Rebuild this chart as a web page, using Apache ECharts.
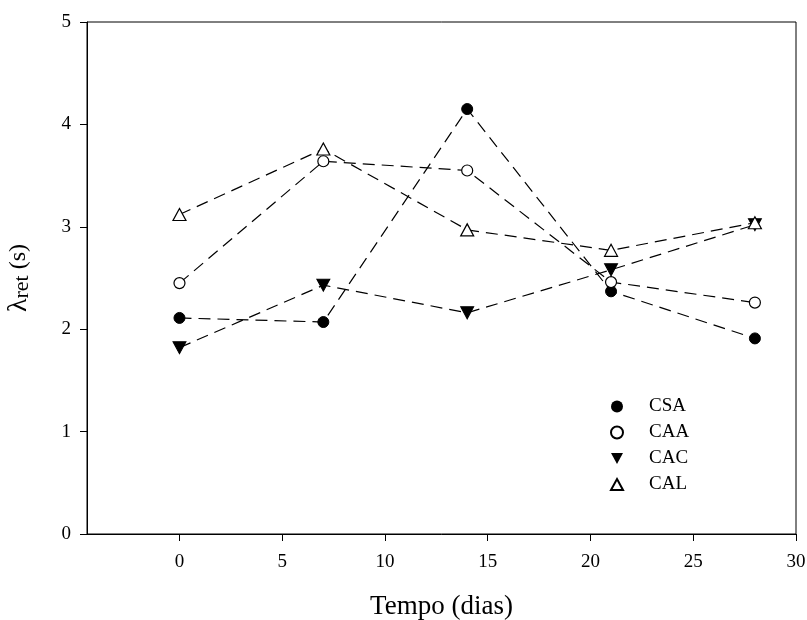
<!DOCTYPE html>
<html>
<head>
<meta charset="utf-8">
<script src="https://cdn.jsdelivr.net/npm/echarts@6/dist/echarts.min.js"></script>
<style>
  html, body { margin: 0; padding: 0; background: #fff; }
  #chart { width: 807px; height: 620px; }
</style>
</head>
<body>
<div id="chart"></div>
<script>
// dias
const days = [0, 7, 14, 21, 28]
const csa = [2.11, 2.07, 4.15, 2.37, 1.91]
const caa = [2.45, 3.64, 3.55, 2.46, 2.26]
const cac = [1.82, 2.43, 2.16, 2.58, 3.02]
const cal = [3.12, 3.76, 2.97, 2.77, 3.04]
const xTicks = [0, 5, 10, 15, 20, 25, 30]

const downTri = 'path://M0,0 L10,0 L5,9 Z'
const upTri = 'path://M5,0 L10,9 L0,9 Z'
const font = 'Liberation Serif'

const pts = (vals) => days.map((d, i) => [d, vals[i]])

const lineBase = {
  type: 'line',
  lineStyle: { color: '#000', width: 1.2, type: [12, 7] },
  emphasis: { disabled: true },
  animation: false,
}

const chart = echarts.init(document.getElementById('chart'))
chart.setOption({
  backgroundColor: '#fff',
  grid: {
    left: 87, right: 11, top: 22, bottom: 86,
    outerBoundsMode: 'none',
    show: true, borderColor: '#000', borderWidth: 1,
  },
  legend: {
    orient: 'vertical',
    left: 610,
    top: 397,
    padding: 0,
    itemWidth: 12,
    itemHeight: 12,
    itemGap: 7,
    textStyle: { fontFamily: font, fontSize: 19, color: '#000', padding: [0, 0, 0, 21] },
    data: [
      { name: 'CSA', icon: 'circle' },
      { name: 'CAA', icon: 'circle' },
      { name: 'CAC', icon: downTri },
      { name: 'CAL', icon: upTri },
    ],
  },
  xAxis: {
    type: 'value',
    min: -4.5,
    max: 30,
    name: 'Tempo (dias)',
    nameLocation: 'middle',
    nameGap: 59,
    nameTextStyle: { fontFamily: font, fontSize: 27, color: '#000' },
    axisLine: { onZero: false, lineStyle: { color: '#000' } },
    axisTick: { show: true, length: 7, customValues: xTicks, lineStyle: { color: '#000' } },
    axisLabel: { customValues: xTicks, fontFamily: font, fontSize: 19, color: '#000', margin: 19 },
    splitLine: { show: false },
  },
  yAxis: {
    type: 'value',
    min: 0,
    max: 5,
    interval: 1,
    name: '{l|λ}{s|ret}{p| (s)}',
    nameLocation: 'middle',
    nameGap: 54,
    nameRotate: 90,
    nameTextStyle: {
      color: '#000',
      rich: {
        l: { fontFamily: font, fontSize: 28, color: '#000' },
        s: { fontFamily: font, fontSize: 22, color: '#000', padding: [6, 0, 0, 0] },
        p: { fontFamily: font, fontSize: 24, color: '#000' },
      },
    },
    axisLine: { onZero: false, lineStyle: { color: '#000' } },
    axisTick: { show: true, length: 7, lineStyle: { color: '#000' } },
    axisLabel: { fontFamily: font, fontSize: 19, color: '#000', margin: 16 },
    splitLine: { show: false },
  },
  series: [
    {
      ...lineBase, name: 'CSA', data: pts(csa),
      symbol: 'circle', symbolSize: 11,
      itemStyle: { color: '#000', borderColor: '#000' },
    },
    {
      ...lineBase, name: 'CAA', data: pts(caa),
      symbol: 'circle', symbolSize: 11,
      itemStyle: { color: '#fff', borderColor: '#000', borderWidth: 1.2 },
    },
    {
      ...lineBase, name: 'CAC', data: pts(cac),
      symbol: downTri, symbolSize: [13, 12],
      itemStyle: { color: '#000', borderColor: '#000' },
    },
    {
      ...lineBase, name: 'CAL', data: pts(cal),
      symbol: upTri, symbolSize: [13, 12],
      itemStyle: { color: '#fff', borderColor: '#000', borderWidth: 1.2 },
    },
  ],
})
</script>
</body>
</html>
